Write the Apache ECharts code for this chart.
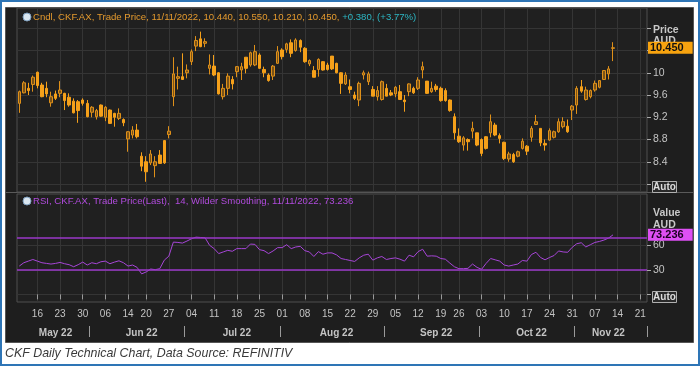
<!DOCTYPE html>
<html><head><meta charset="utf-8">
<script src="https://cdn.jsdelivr.net/npm/echarts@6/dist/echarts.min.js"></script>
<style>html,body{margin:0;padding:0;background:#fff;}#c{width:700px;height:366px;}</style>
</head><body><div id="c"></div>
<script>
// ---- categories: ASX trading days ----
const dates = [
'2022-05-10','2022-05-11','2022-05-12','2022-05-13','2022-05-16','2022-05-17','2022-05-18','2022-05-19','2022-05-20','2022-05-23','2022-05-24','2022-05-25','2022-05-26','2022-05-27','2022-05-30','2022-05-31',
'2022-06-01','2022-06-02','2022-06-03','2022-06-06','2022-06-07','2022-06-08','2022-06-09','2022-06-10','2022-06-14','2022-06-15','2022-06-16','2022-06-17','2022-06-20','2022-06-21','2022-06-22','2022-06-23','2022-06-24','2022-06-27','2022-06-28','2022-06-29','2022-06-30',
'2022-07-01','2022-07-04','2022-07-05','2022-07-06','2022-07-07','2022-07-08','2022-07-11','2022-07-12','2022-07-13','2022-07-14','2022-07-15','2022-07-18','2022-07-19','2022-07-20','2022-07-21','2022-07-22','2022-07-25','2022-07-26','2022-07-27','2022-07-28','2022-07-29',
'2022-08-01','2022-08-02','2022-08-03','2022-08-04','2022-08-05','2022-08-08','2022-08-09','2022-08-10','2022-08-11','2022-08-12','2022-08-15','2022-08-16','2022-08-17','2022-08-18','2022-08-19','2022-08-22','2022-08-23','2022-08-24','2022-08-25','2022-08-26','2022-08-29','2022-08-30','2022-08-31',
'2022-09-01','2022-09-02','2022-09-05','2022-09-06','2022-09-07','2022-09-08','2022-09-09','2022-09-12','2022-09-13','2022-09-14','2022-09-15','2022-09-16','2022-09-19','2022-09-20','2022-09-21','2022-09-23','2022-09-26','2022-09-27','2022-09-28','2022-09-29','2022-09-30',
'2022-10-03','2022-10-04','2022-10-05','2022-10-06','2022-10-07','2022-10-10','2022-10-11','2022-10-12','2022-10-13','2022-10-14','2022-10-17','2022-10-18','2022-10-19','2022-10-20','2022-10-21','2022-10-24','2022-10-25','2022-10-26','2022-10-27','2022-10-28','2022-10-31',
'2022-11-01','2022-11-02','2022-11-03','2022-11-04','2022-11-07','2022-11-08','2022-11-09','2022-11-10','2022-11-11','2022-11-14','2022-11-15','2022-11-16','2022-11-17','2022-11-18','2022-11-21','2022-11-22'
];

// ---- OHLC ----
const opens = [
9.45,9.64,9.72,9.79,10.01,9.78,9.72,9.46,9.62,9.63,
9.63,9.56,9.49,9.48,9.51,9.45,9.29,9.21,9.42,9.20,
9.33,9.27,9.18,9.16,8.81,8.88,8.97,8.50,8.40,8.38,
8.33,8.52,8.78,8.89,9.57,9.90,9.93,10.00,10.20,10.48,
10.61,10.53,10.08,10.12,10.00,9.57,9.72,9.88,10.02,10.05,
10.28,10.14,10.14,10.32,10.06,9.96,9.94,10.17,10.41,10.42,
10.54,10.40,10.58,10.44,10.16,10.04,10.06,10.20,10.14,10.30,
10.17,10.00,9.80,9.75,9.60,9.51,9.96,9.84,9.70,9.57,
9.52,9.72,9.64,9.62,9.66,9.51,9.66,9.72,9.72,10.05,
9.85,9.66,9.76,9.72,9.68,9.51,9.21,8.86,8.70,8.80,
8.95,8.92,8.80,8.85,8.92,9.06,8.87,8.75,8.45,8.53,
8.50,8.64,8.68,8.84,9.07,9.00,8.73,8.79,8.84,8.94,
9.03,9.04,9.33,9.42,9.75,9.52,9.57,9.69,9.74,9.88,
9.98,10.44];
const closes = [
9.66,9.82,9.68,9.92,9.77,9.57,9.62,9.57,9.54,9.69,
9.50,9.42,9.28,9.32,9.45,9.21,9.38,9.32,9.22,9.38,
9.09,9.20,9.27,9.10,8.94,8.97,8.85,8.32,8.22,8.54,
8.40,8.37,8.38,8.95,9.98,9.93,9.88,10.05,10.38,10.58,
10.47,10.56,10.14,9.96,9.62,9.72,9.94,9.80,10.11,10.11,
10.08,10.36,10.38,10.08,10.00,9.86,10.12,10.38,10.29,10.52,
10.35,10.59,10.46,10.20,10.22,9.92,10.24,10.05,10.06,10.07,
10.00,9.81,9.96,9.70,9.54,9.81,10.00,9.98,9.58,9.68,
9.84,9.58,9.60,9.74,9.52,9.48,9.80,9.64,9.87,10.11,
9.63,9.72,9.70,9.50,9.50,9.32,8.92,8.76,8.83,8.76,
9.00,8.70,8.55,8.64,9.12,8.88,8.82,8.46,8.54,8.40,
8.58,8.77,8.59,9.00,9.12,8.74,8.70,8.96,8.94,9.12,
9.12,8.94,9.40,9.72,9.67,9.69,9.68,9.81,9.86,10.04,
10.07,10.45];
const lows = [
9.28,9.63,9.60,9.66,9.72,9.56,9.56,9.39,9.51,9.56,
9.33,9.39,9.27,9.10,9.41,9.20,9.20,9.16,9.21,9.13,
9.08,9.03,9.15,9.04,8.58,8.82,8.82,8.23,8.04,8.34,
8.12,8.36,8.36,8.82,9.40,9.70,9.87,9.90,10.14,10.39,
10.46,10.46,9.97,9.94,9.61,9.52,9.60,9.70,9.92,9.87,
9.99,10.11,10.12,10.07,9.92,9.84,9.87,10.16,10.24,10.36,
10.28,10.38,10.37,10.18,10.12,9.92,9.93,10.04,10.04,10.05,
9.99,9.62,9.78,9.63,9.51,9.40,9.88,9.78,9.58,9.50,
9.50,9.58,9.58,9.56,9.51,9.30,9.58,9.62,9.69,9.90,
9.62,9.64,9.66,9.48,9.48,9.30,8.80,8.74,8.60,8.60,
8.82,8.68,8.50,8.62,8.84,8.86,8.73,8.43,8.40,8.38,
8.48,8.62,8.52,8.76,9.06,8.68,8.60,8.78,8.82,8.92,
9.00,8.92,9.15,9.26,9.64,9.50,9.54,9.66,9.72,9.87,
9.88,10.21];
const highs = [
9.68,9.85,9.82,9.95,10.02,9.82,9.84,9.66,9.68,9.85,
9.64,9.63,9.54,9.51,9.54,9.51,9.40,9.35,9.43,9.40,
9.34,9.28,9.36,9.18,8.95,9.04,9.08,8.57,8.50,8.61,
8.50,8.61,8.79,9.04,10.28,10.11,10.35,10.15,10.42,10.66,
10.74,10.62,10.33,10.32,10.01,9.80,9.99,9.94,10.12,10.18,
10.28,10.38,10.50,10.35,10.11,9.99,10.14,10.48,10.44,10.54,
10.60,10.62,10.60,10.46,10.24,10.12,10.26,10.21,10.18,10.30,
10.18,10.01,10.01,9.88,9.66,9.84,10.04,10.02,9.76,9.76,
9.86,9.80,9.69,9.76,9.78,9.60,9.81,9.75,9.92,10.20,
9.85,9.84,9.80,9.75,9.72,9.52,9.27,9.00,8.86,8.82,
9.12,8.92,8.82,8.86,9.25,9.10,8.91,8.76,8.58,8.56,
8.60,8.82,8.70,9.04,9.24,9.00,8.80,9.00,8.96,9.18,
9.20,9.16,9.42,9.76,9.87,9.75,9.70,9.86,9.87,10.05,
10.12,10.55];

// ---- RSI(14) ----
const rsi = [
34.8,38.9,40.9,42.9,40.9,38.9,38.1,37.3,38.1,39.3,
37.7,36.5,34.0,36.5,39.7,36.1,38.9,37.7,40.1,40.9,
37.7,39.7,41.3,38.9,34.8,36.1,33.2,25.2,27.6,31.2,
30.4,31.6,42.1,47.0,64.3,63.9,63.1,65.6,68.4,70.4,
70.0,69.6,60.3,56.3,50.2,52.2,54.2,53.0,56.3,56.3,
56.3,61.9,61.5,55.0,53.8,50.2,53.4,57.5,57.5,61.1,
56.3,58.3,59.1,53.8,52.2,46.6,52.6,49.4,51.0,51.0,
48.6,44.1,42.9,41.7,40.5,44.9,48.2,49.4,42.1,44.9,
46.6,42.9,44.1,44.9,43.3,40.9,48.2,46.2,52.6,55.5,
47.0,47.4,47.0,44.1,43.3,38.5,34.0,31.6,31.6,32.0,
37.3,33.2,30.8,38.1,44.1,42.5,40.9,36.1,34.8,36.1,
37.3,41.7,40.9,49.0,51.8,45.4,42.5,45.4,47.8,53.4,
52.2,51.8,57.9,62.3,63.5,58.3,61.1,63.9,65.1,66.8,
69.2,73.236];

// ---- ticks / labels ----
const weekTickDates = ['2022-05-16','2022-05-23','2022-05-30','2022-06-06','2022-06-14','2022-06-20','2022-06-27','2022-07-04','2022-07-11','2022-07-18','2022-07-25','2022-08-01','2022-08-08','2022-08-15','2022-08-22','2022-08-29','2022-09-05','2022-09-12','2022-09-19','2022-09-26','2022-10-03','2022-10-10','2022-10-17','2022-10-24','2022-10-31','2022-11-07','2022-11-14','2022-11-21'];
const monthLabelDates = ['2022-05-20','2022-06-17','2022-07-18','2022-08-17','2022-09-16','2022-10-18','2022-11-10'];
const monthLabels = ['May 22','Jun 22','Jul 22','Aug 22','Sep 22','Oct 22','Nov 22'];
const monthStartDates = ['2022-06-01','2022-07-01','2022-08-01','2022-09-01','2022-10-03','2022-11-01'];
const priceTicks = [8.0,8.4,8.8,9.2,9.6,10.0,10.4,10.8];
const priceLabels = [8.4,8.8,9.2,9.6,10,10.4];
const rsiTicks = [0,30,60];
const rsiLabels = [30,60];
const rsiLevels = [70,30];
const lastClose = 10.45;
const lastRsi = 73.236;

const weekIdx = new Set(weekTickDates.map(d => dates.indexOf(d)));
const monthStartIdx = new Set(monthStartDates.map(d => dates.indexOf(d)));
const monthLabelIdx = new Set(monthLabelDates.map(d => dates.indexOf(d)));
const candleData = opens.map((o, i) => [o, closes[i], lows[i], highs[i]]);

const FONT = 'Liberation Sans, Arial, sans-serif';
const gridColor = '#353535';
const axisText = '#c4c4c4';
const CLEAR = 'rgba(0,0,0,0)';

const chart = echarts.init(document.getElementById('c'), null, {renderer: 'canvas', width: 700, height: 366});
chart.setOption({
  animation: false,
  backgroundColor: '#ffffff',
  textStyle: {fontFamily: FONT},
  grid: [
    {left: 17, top: 8, width: 630, height: 184, show: true, backgroundColor: '#202020', borderColor: '#4e4e4e', borderWidth: 1, containLabel: false},
    {left: 17, top: 194, width: 630, height: 108, show: true, backgroundColor: '#202020', borderColor: '#4e4e4e', borderWidth: 1, containLabel: false}
  ],
  xAxis: [
    {type: 'category', gridIndex: 0, data: dates, boundaryGap: true,
     axisLine: {show: false}, axisTick: {show: false}, axisLabel: {show: false},
     splitLine: {show: true, interval: (i) => weekIdx.has(i), alignWithLabel: true, lineStyle: {color: gridColor, width: 1}}},
    {type: 'category', gridIndex: 1, data: dates, boundaryGap: true,
     axisLine: {show: false},
     axisTick: {show: true, interval: (i) => weekIdx.has(i), alignWithLabel: true, length: 5, lineStyle: {color: '#9a9a9a'}},
     axisLabel: {interval: (i) => weekIdx.has(i), formatter: (v) => v.slice(8), color: axisText, fontSize: 10, margin: 7, fontFamily: FONT},
     splitLine: {show: true, interval: (i) => weekIdx.has(i), alignWithLabel: true, lineStyle: {color: gridColor, width: 1}}},
    {type: 'category', gridIndex: 1, data: dates, boundaryGap: true, position: 'bottom', offset: 24,
     axisLine: {show: false},
     axisTick: {show: true, interval: (i) => monthStartIdx.has(i), length: 11, lineStyle: {color: '#9a9a9a'}},
     axisLabel: {interval: (i) => monthLabelIdx.has(i), formatter: (v) => monthLabels[monthLabelDates.indexOf(v)] || '', color: axisText, fontSize: 10, fontWeight: 'bold', margin: 2, fontFamily: FONT},
     splitLine: {show: false}}
  ],
  yAxis: [
    {type: 'value', gridIndex: 0, position: 'right', min: 7.856, max: 11.165,
     axisLine: {show: false},
     axisTick: {show: true, customValues: priceTicks, length: 4, lineStyle: {color: '#aaaaaa'}},
     axisLabel: {customValues: priceLabels, color: axisText, fontSize: 10.5, margin: 6, formatter: (v) => String(v), fontFamily: FONT},
     splitLine: {show: true, lineStyle: {color: gridColor, width: 1}}},
    {type: 'value', gridIndex: 1, position: 'right', min: -9.4, max: 123.5,
     axisLine: {show: false},
     axisTick: {show: true, customValues: rsiTicks, length: 4, lineStyle: {color: '#aaaaaa'}},
     axisLabel: {customValues: rsiLabels, color: axisText, fontSize: 10.5, margin: 6, fontFamily: FONT},
     splitLine: {show: true, lineStyle: {color: gridColor, width: 1}}}
  ],
  series: [
    {type: 'candlestick', name: 'CKF.AX', xAxisIndex: 0, yAxisIndex: 0, data: candleData, barWidth: 3, clip: false,
     itemStyle: {color: '#7a5318', color0: '#f5a01a', borderColor: '#df9019', borderColor0: '#f5a01a', borderWidth: 1},
     markLine: {silent: true, symbol: ['none', 'none'], animation: false, z: 10,
       data: [{yAxis: lastClose, lineStyle: {color: CLEAR, width: 0},
         label: {show: true, position: 'end', distance: 1, formatter: '10.450', backgroundColor: '#f7a30f', color: '#111111', fontWeight: 'bold', fontSize: 11, padding: [1, 9, 0, 2], fontFamily: FONT}}]}},
    {type: 'line', name: 'RSI', xAxisIndex: 1, yAxisIndex: 1, data: rsi, showSymbol: false, symbol: 'none',
     lineStyle: {color: '#a745d8', width: 1},
     markLine: {silent: true, symbol: ['none', 'none'], animation: false, z: 10,
       data: rsiLevels.map(v => ({yAxis: v, lineStyle: {color: '#9a37c9', width: 1.5, type: 'solid'}, label: {show: false}})).concat([
         {yAxis: lastRsi, lineStyle: {color: CLEAR, width: 0},
          label: {show: true, position: 'end', distance: 1, formatter: '73.236', backgroundColor: '#de4ff4', color: '#1a0020', fontWeight: 'bold', fontSize: 11, padding: [1, 9, 0, 2], fontFamily: FONT}}])}}
  ],
  graphic: [
    {type: 'rect', z: -100, shape: {x: 1, y: 1, width: 698, height: 364}, style: {fill: '#ffffff', stroke: '#2e75b6', lineWidth: 2}},
    {type: 'rect', z: -99, shape: {x: 5.5, y: 7.5, width: 688, height: 335}, style: {fill: '#1e1e1e', stroke: '#555555', lineWidth: 1}},
    {type: 'line', z: -98, shape: {x1: 6, y1: 192.5, x2: 693, y2: 192.5}, style: {stroke: '#5a5a5a', lineWidth: 1}},
    {type: 'circle', z: 100, shape: {cx: 27, cy: 17, r: 4}, style: {fill: '#d9e6f0', stroke: '#7f9fbf', lineWidth: 1}},
    {type: 'circle', z: 100, shape: {cx: 27, cy: 201, r: 4}, style: {fill: '#d9e6f0', stroke: '#7f9fbf', lineWidth: 1}},
    {type: 'text', z: 100, x: 33, y: 17, style: {
      text: '{a|Cndl, CKF.AX, Trade Price, 11/11/2022, 10.440, 10.550, 10.210, 10.450, }{b|+0.380, (+3.77%)}',
      font: '9.6px ' + FONT, verticalAlign: 'middle',
      rich: {a: {fill: '#e49a2e', font: '9.6px ' + FONT}, b: {fill: '#2cb7c4', font: '9.6px ' + FONT}}}},
    {type: 'text', z: 100, x: 33, y: 201, style: {
      text: 'RSI, CKF.AX, Trade Price(Last),  14, Wilder Smoothing, 11/11/2022, 73.236',
      font: '9.6px ' + FONT, fill: '#b04bdc', verticalAlign: 'middle'}},
    {type: 'text', z: 0, x: 653, y: 30, style: {text: 'Price', font: 'bold 10.5px ' + FONT, fill: '#c8c8c8', verticalAlign: 'middle'}},
    {type: 'text', z: 0, x: 653, y: 41, style: {text: 'AUD', font: 'bold 10.5px ' + FONT, fill: '#c8c8c8', verticalAlign: 'middle'}},
    {type: 'text', z: 0, x: 653, y: 213, style: {text: 'Value', font: 'bold 10.5px ' + FONT, fill: '#c8c8c8', verticalAlign: 'middle'}},
    {type: 'text', z: 0, x: 653, y: 225, style: {text: 'AUD', font: 'bold 10.5px ' + FONT, fill: '#c8c8c8', verticalAlign: 'middle'}},
    {type: 'rect', z: 100, shape: {x: 652.5, y: 181.5, width: 24, height: 11}, style: {fill: '#2a2a2a', stroke: '#b0b0b0', lineWidth: 1}},
    {type: 'text', z: 101, x: 664.5, y: 187.5, style: {text: 'Auto', font: 'bold 10px ' + FONT, fill: '#dcdcdc', align: 'center', verticalAlign: 'middle'}},
    {type: 'rect', z: 100, shape: {x: 652.5, y: 291.5, width: 24, height: 11}, style: {fill: '#2a2a2a', stroke: '#b0b0b0', lineWidth: 1}},
    {type: 'text', z: 101, x: 664.5, y: 297.5, style: {text: 'Auto', font: 'bold 10px ' + FONT, fill: '#dcdcdc', align: 'center', verticalAlign: 'middle'}},
    {type: 'text', z: 100, x: 5, y: 354, style: {text: 'CKF Daily Technical Chart, Data Source: REFINITIV', font: 'italic 12.4px ' + FONT, fill: '#3a3a3a', verticalAlign: 'middle'}}
  ]
});
</script>
</body></html>
